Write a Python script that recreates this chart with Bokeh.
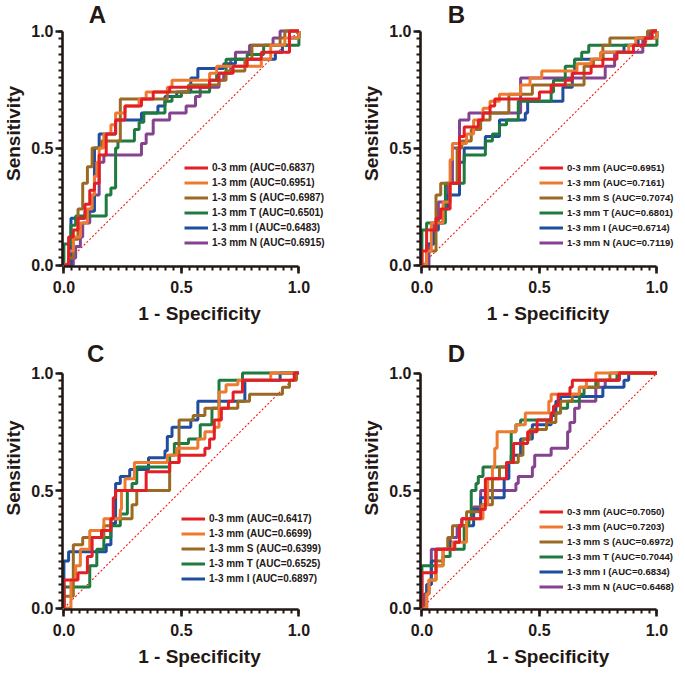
from bokeh.plotting import figure
from bokeh.layouts import column, row
from bokeh.models import Legend, LegendItem, SingleIntervalTicker, Range1d, Label
from bokeh.embed import file_html
from bokeh.resources import INLINE

# ---------------- data (ROC points: at fpr[i] the curve rises to tpr[i]) ----------------
A_03_fpr = [0, 0.02, 0.04, 0.06, 0.09, 0.11, 0.13, 0.15, 0.18, 0.22, 0.26, 0.33, 0.38, 0.45, 0.62, 0.66, 0.72, 0.78, 0.84, 0.96, 1.0]
A_03_tpr = [0, 0.12, 0.15, 0.20, 0.26, 0.32, 0.35, 0.47, 0.56, 0.62, 0.68, 0.71, 0.74, 0.76, 0.79, 0.82, 0.85, 0.88, 0.91, 1.0, 1.0]
A_13_fpr = [0, 0.02, 0.04, 0.07, 0.10, 0.12, 0.13, 0.14, 0.15, 0.17, 0.20, 0.22, 0.26, 0.32, 0.35, 0.44, 0.46, 0.62, 0.65, 0.84, 0.88, 0.94, 1.0]
A_13_tpr = [0, 0.06, 0.12, 0.18, 0.24, 0.30, 0.38, 0.44, 0.50, 0.56, 0.60, 0.65, 0.68, 0.71, 0.74, 0.76, 0.79, 0.82, 0.85, 0.88, 0.94, 0.97, 1.0]
A_S_fpr = [0, 0.02, 0.04, 0.06, 0.08, 0.10, 0.12, 0.16, 0.24, 0.44, 0.53, 0.66, 0.69, 0.77, 0.80, 0.92, 0.94, 1.0]
A_S_tpr = [0, 0.03, 0.11, 0.24, 0.35, 0.42, 0.50, 0.53, 0.71, 0.74, 0.77, 0.79, 0.83, 0.88, 0.94, 0.97, 1.0, 1.0]
A_T_fpr = [0, 0, 0.03, 0.05, 0.18, 0.20, 0.22, 0.23, 0.30, 0.32, 0.34, 0.43, 0.46, 0.50, 0.62, 0.65, 0.69, 0.78, 0.85, 1.0]
A_T_tpr = [0, 0.09, 0.17, 0.21, 0.30, 0.33, 0.50, 0.53, 0.58, 0.61, 0.65, 0.70, 0.72, 0.74, 0.79, 0.82, 0.88, 0.90, 0.94, 1.0]
A_I_fpr = [0, 0.03, 0.09, 0.13, 0.15, 0.22, 0.33, 0.40, 0.43, 0.48, 0.54, 0.57, 0.68, 0.73, 0.90, 0.93, 0.96, 1.0]
A_I_tpr = [0, 0.20, 0.23, 0.50, 0.56, 0.62, 0.65, 0.68, 0.72, 0.74, 0.80, 0.84, 0.86, 0.88, 0.91, 0.94, 0.97, 1.0]
A_N_fpr = [0, 0.04, 0.05, 0.07, 0.08, 0.11, 0.12, 0.15, 0.17, 0.33, 0.35, 0.38, 0.45, 0.52, 0.56, 0.58, 0.66, 0.68, 0.71, 0.73, 0.79, 0.89, 0.92, 1.0]
A_N_tpr = [0, 0.03, 0.08, 0.12, 0.18, 0.24, 0.30, 0.44, 0.47, 0.52, 0.56, 0.62, 0.65, 0.68, 0.72, 0.76, 0.79, 0.82, 0.88, 0.91, 0.94, 0.97, 1.0, 1.0]

B_03_fpr = [0, 0, 0.02, 0.06, 0.08, 0.12, 0.16, 0.18, 0.24, 0.26, 0.29, 0.31, 0.50, 0.55, 0.61, 0.64, 0.72, 0.77, 0.83, 0.90, 0.95, 0.98, 1.0]
B_03_tpr = [0, 0.06, 0.15, 0.20, 0.24, 0.35, 0.55, 0.59, 0.62, 0.65, 0.68, 0.71, 0.74, 0.77, 0.79, 0.82, 0.85, 0.88, 0.91, 0.94, 0.97, 1.0, 1.0]
B_13_fpr = [0, 0.02, 0.04, 0.09, 0.12, 0.13, 0.19, 0.22, 0.26, 0.29, 0.33, 0.42, 0.46, 0.51, 0.66, 0.72, 0.76, 0.88, 0.91, 1.0]
B_13_tpr = [0, 0.06, 0.18, 0.27, 0.45, 0.52, 0.56, 0.62, 0.67, 0.70, 0.73, 0.77, 0.80, 0.83, 0.86, 0.88, 0.91, 0.94, 0.97, 1.0]
B_S_fpr = [0, 0.02, 0.06, 0.08, 0.15, 0.17, 0.21, 0.25, 0.29, 0.37, 0.47, 0.69, 0.73, 0.77, 0.80, 0.96, 1.0]
B_S_tpr = [0, 0.06, 0.30, 0.35, 0.50, 0.53, 0.58, 0.62, 0.65, 0.73, 0.77, 0.85, 0.88, 0.94, 0.97, 1.0, 1.0]
B_T_fpr = [0, 0, 0.02, 0.10, 0.18, 0.27, 0.30, 0.33, 0.36, 0.41, 0.55, 0.56, 0.61, 0.65, 0.68, 0.71, 1.0]
B_T_tpr = [0, 0.15, 0.18, 0.35, 0.47, 0.53, 0.56, 0.60, 0.62, 0.70, 0.74, 0.79, 0.85, 0.88, 0.91, 0.94, 1.0]
B_I_fpr = [0, 0.02, 0.05, 0.07, 0.09, 0.11, 0.16, 0.18, 0.27, 0.33, 0.44, 0.45, 0.60, 0.64, 0.65, 0.77, 0.86, 0.92, 1.0]
B_I_tpr = [0, 0.09, 0.15, 0.18, 0.24, 0.30, 0.44, 0.50, 0.55, 0.62, 0.65, 0.70, 0.76, 0.82, 0.88, 0.91, 0.94, 0.97, 1.0]
B_N_fpr = [0, 0.03, 0.05, 0.07, 0.11, 0.13, 0.16, 0.20, 0.42, 0.78, 0.82, 0.94, 0.97, 1.0]
B_N_tpr = [0, 0.09, 0.18, 0.27, 0.35, 0.50, 0.62, 0.65, 0.80, 0.85, 0.91, 0.97, 1.0, 1.0]

C_03_fpr = [0, 0, 0.06, 0.10, 0.12, 0.16, 0.20, 0.21, 0.22, 0.35, 0.45, 0.49, 0.60, 0.62, 0.64, 0.67, 0.70, 0.72, 0.76, 0.98, 1.0]
C_03_tpr = [0, 0.12, 0.15, 0.22, 0.30, 0.33, 0.38, 0.47, 0.50, 0.58, 0.62, 0.65, 0.68, 0.72, 0.80, 0.85, 0.88, 0.92, 0.97, 1.0, 1.0]
C_13_fpr = [0, 0.03, 0.05, 0.07, 0.11, 0.17, 0.24, 0.245, 0.26, 0.30, 0.44, 0.48, 0.57, 0.60, 0.64, 0.66, 0.69, 0.74, 0.88, 1.0]
C_13_tpr = [0, 0.12, 0.18, 0.25, 0.33, 0.38, 0.42, 0.50, 0.55, 0.62, 0.65, 0.68, 0.72, 0.75, 0.77, 0.92, 0.95, 0.97, 1.0, 1.0]
C_S_fpr = [0, 0, 0.04, 0.08, 0.17, 0.20, 0.29, 0.31, 0.45, 0.49, 0.55, 0.60, 0.74, 0.79, 0.93, 0.96, 0.99, 1.0]
C_S_tpr = [0, 0.05, 0.27, 0.30, 0.35, 0.38, 0.44, 0.50, 0.62, 0.80, 0.82, 0.85, 0.88, 0.91, 0.94, 0.97, 1.0, 1.0]
C_T_fpr = [0, 0, 0.11, 0.14, 0.17, 0.20, 0.24, 0.27, 0.29, 0.31, 0.45, 0.47, 0.53, 0.58, 0.63, 0.66, 0.76, 1.0]
C_T_tpr = [0, 0.09, 0.18, 0.25, 0.30, 0.35, 0.40, 0.50, 0.53, 0.60, 0.65, 0.70, 0.72, 0.78, 0.85, 0.97, 1.0, 1.0]
C_I_fpr = [0, 0, 0.02, 0.18, 0.20, 0.22, 0.24, 0.28, 0.36, 0.43, 0.44, 0.46, 0.54, 0.57, 0.77, 0.92, 1.0]
C_I_tpr = [0, 0.20, 0.24, 0.27, 0.36, 0.53, 0.56, 0.59, 0.64, 0.67, 0.73, 0.77, 0.80, 0.88, 0.97, 1.0, 1.0]

D_03_fpr = [0, 0, 0.06, 0.14, 0.16, 0.17, 0.25, 0.27, 0.36, 0.39, 0.45, 0.49, 0.55, 0.56, 0.58, 0.63, 0.64, 0.84, 1.0]
D_03_tpr = [0, 0.15, 0.25, 0.28, 0.35, 0.38, 0.42, 0.55, 0.62, 0.70, 0.75, 0.80, 0.83, 0.86, 0.91, 0.94, 0.97, 1.0, 1.0]
D_13_fpr = [0, 0.02, 0.03, 0.06, 0.09, 0.13, 0.19, 0.26, 0.28, 0.30, 0.31, 0.32, 0.40, 0.44, 0.54, 0.55, 0.67, 0.70, 0.74, 1.0]
D_13_tpr = [0, 0.06, 0.12, 0.18, 0.25, 0.28, 0.38, 0.44, 0.55, 0.60, 0.68, 0.75, 0.78, 0.83, 0.88, 0.91, 0.94, 0.97, 1.0, 1.0]
D_S_fpr = [0, 0.02, 0.03, 0.06, 0.09, 0.11, 0.13, 0.19, 0.25, 0.30, 0.33, 0.36, 0.41, 0.43, 0.46, 0.53, 0.57, 0.59, 0.64, 0.67, 0.75, 0.80, 1.0]
D_S_tpr = [0, 0.06, 0.12, 0.20, 0.25, 0.30, 0.35, 0.41, 0.44, 0.55, 0.60, 0.62, 0.65, 0.72, 0.76, 0.79, 0.83, 0.88, 0.91, 0.94, 0.97, 1.0, 1.0]
D_T_fpr = [0, 0, 0.09, 0.12, 0.18, 0.20, 0.21, 0.23, 0.24, 0.26, 0.36, 0.38, 0.40, 0.42, 0.55, 0.59, 0.62, 0.67, 0.69, 0.74, 0.83, 1.0]
D_T_tpr = [0, 0.18, 0.22, 0.25, 0.35, 0.38, 0.50, 0.53, 0.56, 0.60, 0.62, 0.75, 0.78, 0.80, 0.83, 0.85, 0.88, 0.91, 0.94, 0.97, 1.0, 1.0]
D_I_fpr = [0, 0.02, 0.04, 0.06, 0.12, 0.16, 0.22, 0.25, 0.35, 0.37, 0.38, 0.42, 0.47, 0.55, 0.57, 0.59, 0.77, 0.86, 0.88, 1.0]
D_I_tpr = [0, 0.10, 0.20, 0.25, 0.28, 0.35, 0.42, 0.47, 0.55, 0.62, 0.65, 0.72, 0.78, 0.82, 0.88, 0.90, 0.94, 0.97, 1.0, 1.0]
D_N_fpr = [0, 0.01, 0.03, 0.04, 0.12, 0.15, 0.17, 0.22, 0.25, 0.40, 0.41, 0.47, 0.48, 0.55, 0.62, 0.63, 0.65, 0.67, 0.74, 0.78, 0.84, 1.0]
D_N_tpr = [0, 0.06, 0.10, 0.25, 0.30, 0.35, 0.38, 0.43, 0.50, 0.53, 0.56, 0.60, 0.65, 0.68, 0.75, 0.79, 0.85, 0.88, 0.94, 0.97, 1.0, 1.0]

SERIES = ["0-3 mm", "1-3 mm", "1-3 mm S", "1-3 mm T", "1-3 mm I", "1-3 mm N"]
AUC_A = ["0.6837", "0.6951", "0.6987", "0.6501", "0.6483", "0.6915"]
AUC_B = ["0.6951", "0.7161", "0.7074", "0.6801", "0.6714", "0.7119"]
AUC_C = ["0.6417", "0.6699", "0.6399", "0.6525", "0.6897"]
AUC_D = ["0.7050", "0.7203", "0.6972", "0.7044", "0.6834", "0.6468"]
TICKS = [0.0, 0.5, 1.0]

COLORS = ["#E41E25", "#EE7A30", "#9A6A24", "#1E7A3E", "#1F4E9E", "#85438F"]
INK = "#231815"
FONT = "Liberation Sans"

PANELS = {
    "A": ([(A_03_fpr, A_03_tpr), (A_13_fpr, A_13_tpr), (A_S_fpr, A_S_tpr), (A_T_fpr, A_T_tpr), (A_I_fpr, A_I_tpr), (A_N_fpr, A_N_tpr)], AUC_A),
    "B": ([(B_03_fpr, B_03_tpr), (B_13_fpr, B_13_tpr), (B_S_fpr, B_S_tpr), (B_T_fpr, B_T_tpr), (B_I_fpr, B_I_tpr), (B_N_fpr, B_N_tpr)], AUC_B),
    "C": ([(C_03_fpr, C_03_tpr), (C_13_fpr, C_13_tpr), (C_S_fpr, C_S_tpr), (C_T_fpr, C_T_tpr), (C_I_fpr, C_I_tpr)], AUC_C),
    "D": ([(D_03_fpr, D_03_tpr), (D_13_fpr, D_13_tpr), (D_S_fpr, D_S_tpr), (D_T_fpr, D_T_tpr), (D_I_fpr, D_I_tpr), (D_N_fpr, D_N_tpr)], AUC_D),
}

PAD = 0.006   # small data padding so that lines on the axes are not clipped


def make_panel(key, fw, fh, ppx, ppy, left, title_xy, leg_loc, leg_font):
    curves, aucs = PANELS[key]
    p = figure(frame_width=fw, frame_height=fh, output_backend="svg", toolbar_location=None,
               title=None,
               x_range=Range1d(-PAD, -PAD + fw / ppx), y_range=Range1d(-PAD, -PAD + fh / ppy),
               min_border_left=left, min_border_right=0, min_border_top=0, min_border_bottom=0,
               background_fill_color=None, border_fill_color=None, outline_line_color=None)
    p.grid.visible = False

    for ax in (p.xaxis[0], p.yaxis[0]):
        ax.bounds = (0, 1)
        ax.ticker = SingleIntervalTicker(interval=0.5, num_minor_ticks=15)
        ax.axis_line_color = INK
        ax.axis_line_width = 2.6
        ax.major_tick_line_color = INK
        ax.major_tick_line_width = 2.6
        ax.major_tick_out = 7
        ax.major_tick_in = 0
        ax.minor_tick_line_color = INK
        ax.minor_tick_line_width = 2
        ax.minor_tick_out = 4
        ax.minor_tick_in = 0
        ax.major_label_text_font = FONT
        ax.major_label_text_font_size = "16px"
        ax.major_label_text_font_style = "bold"
        ax.major_label_text_color = INK
        ax.axis_label_text_font = FONT
        ax.axis_label_text_font_size = "19px"
        ax.axis_label_text_font_style = "bold"
        ax.axis_label_text_color = INK
        ax.major_label_overrides = {0: "0.0", 0.5: "0.5", 1: "1.0"}
    p.xaxis[0].axis_label = "1 - Specificity"
    p.yaxis[0].axis_label = "Sensitivity"
    p.xaxis[0].major_label_standoff = 7
    p.yaxis[0].major_label_standoff = 2
    p.xaxis[0].axis_label_standoff = 7
    p.yaxis[0].axis_label_standoff = 4

    # chance line
    p.line(TICKS, TICKS, line_color="#F01818", line_width=1.1, line_dash="2 2")

    renderers = [None] * len(curves)
    for i in reversed(range(len(curves))):
        fx, ty = curves[i]
        renderers[i] = p.step(fx, ty, mode="after", line_color=COLORS[i], line_width=3)

    items = [LegendItem(label=f"{SERIES[i]} (AUC={aucs[i]})", renderers=[renderers[i]])
             for i in range(len(curves))]
    leg = Legend(items=items, location=leg_loc, padding=0, margin=0, spacing=0,
                 glyph_width=24, glyph_height=15, label_height=15, label_standoff=4,
                 label_text_font=FONT, label_text_font_size=leg_font, label_text_font_style="bold",
                 label_text_color=INK, border_line_alpha=0, background_fill_alpha=0)
    p.add_layout(leg, "center")

    p.add_layout(Label(x=title_xy[0], y=title_xy[1], text=key, text_font=FONT,
                       text_font_size="24px", text_font_style="bold", text_color=INK,
                       text_align="left", text_baseline="middle"))
    return p


pA = make_panel("A", 274, 266, 235, 234, 56, (0.106, 1.073), (122, 16), "10px")
pB = make_panel("B", 255, 266, 235, 234, 84, (0.11, 1.073), (119, 16), "9.5px")
pC = make_panel("C", 274, 283, 235, 235, 56, (0.098, 1.083), (119, 23), "10px")
pD = make_panel("D", 255, 283, 235, 235, 84, (0.11, 1.083), (119, 15), "9.5px")

layout = column(row(pA, pB), row(pC, pD))
open("out.html", "w").write(file_html(layout, INLINE))
